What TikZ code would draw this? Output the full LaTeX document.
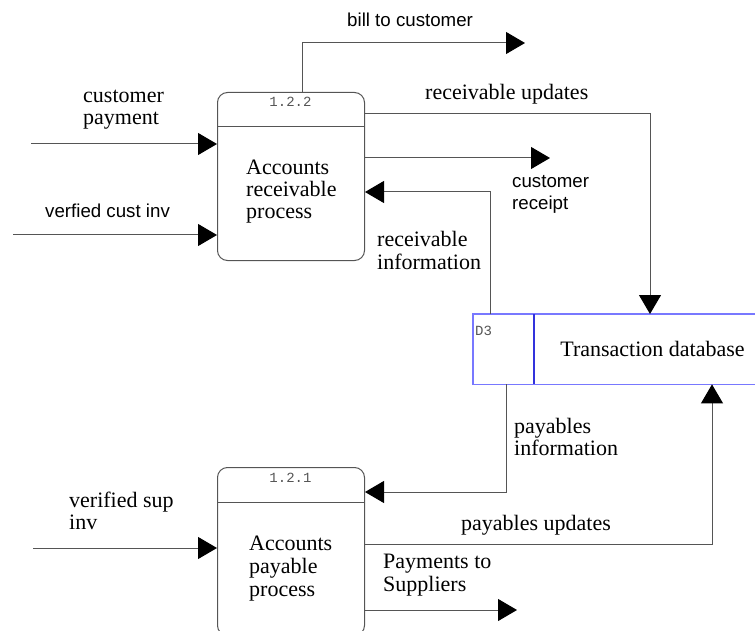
\documentclass[tikz,border=0pt]{standalone}
\usepackage{fontspec}
\setmainfont{Liberation Serif}
\setsansfont{Liberation Sans}
\setmonofont{Liberation Mono}
\usetikzlibrary{arrows.meta}
\definecolor{ln}{RGB}{85,85,85}
\definecolor{stb}{RGB}{120,120,255}
\definecolor{stdiv}{RGB}{50,50,220}
\newcommand{\twol}[3][22pt]{\vtop{\baselineskip=#1\hbox{#2}\hbox{#3}}}
\newcommand{\threel}[4][22pt]{\vtop{\baselineskip=#1\hbox{#2}\hbox{#3}\hbox{#4}}}
\tikzset{
  proc/.style={draw=ln, rounded corners=10pt, minimum width=147pt, minimum height=168pt, inner sep=0pt, line width=1pt},
  flow/.style={draw=ln, line width=1pt, -{Triangle[length=19pt,width=22pt,color=black]}},
  lab/.style={anchor=base west, inner sep=0pt, font=\fontsize{22}{22}\selectfont},
  slab/.style={anchor=base west, inner sep=0pt, font=\sffamily\fontsize{18.7}{22}\selectfont},
  num/.style={anchor=base, inner sep=0pt, font=\ttfamily\fontsize{14}{14}\selectfont, text=ln},
  sline/.style={draw=stb, line width=1.3pt},
}
\begin{document}
\begin{tikzpicture}[x=1pt,y=-1pt]
\useasboundingbox (0,0) rectangle (755,631);

% processes
\node[proc, anchor=north west] (p1) at (217,92) {};
\draw[draw=ln, line width=1pt] (p1.west |- 0,127) -- (p1.east |- 0,127);
\node[num] (n1) at (290.5,107) {1.2.2};
\node[lab] (t1) at (246,175) {\threel{Accounts}{receivable}{process}};

\node[proc, anchor=north west] (p2) at (217,467) {};
\draw[draw=ln, line width=1pt] (p2.west |- 0,502) -- (p2.east |- 0,502);
\node[num] (n2) at (290.5,482) {1.2.1};
\node[lab] (t2) at (249,550) {\threel[23pt]{Accounts}{payable}{process}};

% data store
\node[inner sep=0pt, minimum width=300pt, minimum height=70pt, anchor=north west] (store) at (473,314) {};
\draw[sline] (store.north east) -- (store.north west) -- (store.south west) -- (store.south east);
\draw[draw=stdiv, line width=1.3pt] (store.north -| 534,0) -- (store.south -| 534,0);
\node[num, anchor=base west, text=ln] (d3) at (475,335) {D3};
\node[lab, anchor=base] (tdb) at (652.5,356) {Transaction database};

% free ends
\coordinate (cpin) at (31,144);
\coordinate (vcin) at (13,235);
\coordinate (billout) at (525,43);
\coordinate (crout) at (550,158);
\coordinate (vsin) at (33,548);
\coordinate (psout) at (517,610);

% connectors
\draw[flow] (cpin) -- (cpin -| p1.west);
\draw[flow] (vcin) -- (vcin -| p1.west);
\draw[flow] (p1.north -| 302,0) |- (billout);
\draw[flow] (p1.east |- 0,114) -| (store.north -| 650,0);
\draw[flow] (crout -| p1.east) -- (crout);
\draw[flow] (store.north -| 490,0) |- (p1.east |- 0,192);
\draw[flow] (store.south -| 506,0) |- (p2.east |- 0,492);
\draw[flow] (p2.east |- 0,544) -| (store.south -| 712,0);
\draw[flow] (vsin) -- (vsin -| p2.west);
\draw[flow] (psout -| p2.east) -- (psout);

% labels
\node[slab] (lbill) at (347,27) {bill to customer};
\node[lab] (lcp) at (83,103) {\twol{customer}{payment}};
\node[slab] (lvc) at (45,218) {verfied cust inv};
\node[lab] (lru) at (425,100) {receivable updates};
\node[slab] (lcr) at (512,188) {\twol{customer}{receipt}};
\node[lab] (lri) at (377,247) {\twol[23pt]{receivable}{information}};
\node[lab] (lpi) at (514,433) {\twol{payables}{information}};
\node[lab] (lvs) at (69,507) {\twol{verified sup}{inv}};
\node[lab] (lpu) at (461,530) {payables updates};
\node[lab] (lps) at (383,568) {\twol[23pt]{Payments to}{Suppliers}};
\end{tikzpicture}
\end{document}
